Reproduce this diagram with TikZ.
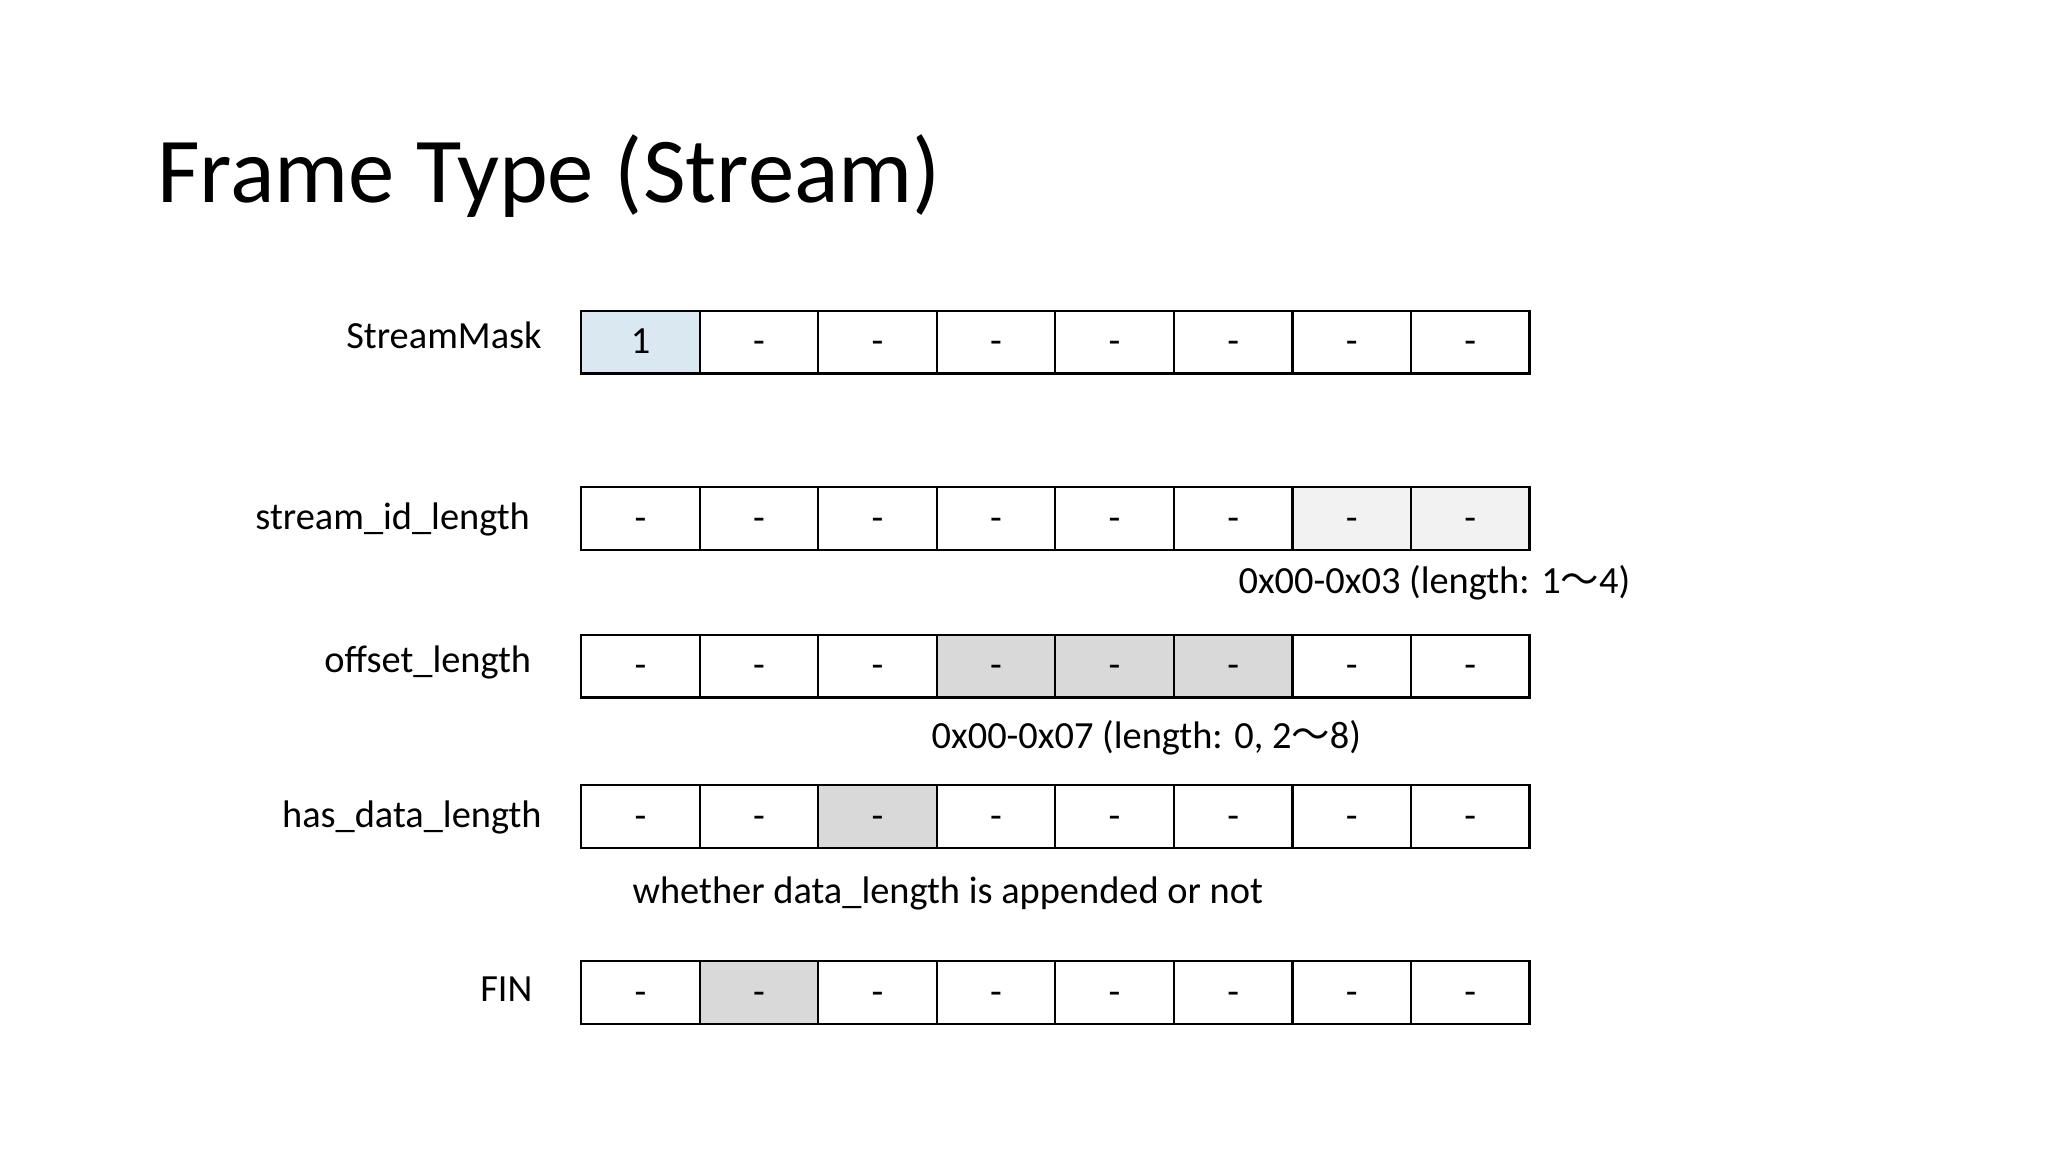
\documentclass[tikz,border=0pt]{standalone}
\usepackage{fontspec}
\setmainfont{Carlito}
\newfontfamily\cjk{Noto Sans CJK JP}
\usepackage{xcolor}
\usetikzlibrary{positioning}
\definecolor{maskblue}{HTML}{DAE8F2}
\definecolor{lightgrey}{HTML}{F2F2F2}
\definecolor{midgrey}{HTML}{D9D9D9}
\tikzset{
  bitcell/.style={draw, line width=1.1pt, minimum width=55.6pt, minimum height=29.4pt, inner sep=0pt, text height=13pt, text depth=2pt, font=\fontsize{18}{20}\selectfont},
  fieldlabel/.style={anchor=east, inner sep=0pt, font=\fontsize{18}{20}\selectfont},
  note/.style={anchor=west, inner sep=0pt, font=\fontsize{18}{20}\selectfont}
}

\begin{document}
\begin{tikzpicture}[x=0.6122pt, y=-0.6122pt]
    % Rahmen
    \useasboundingbox (0,0) rectangle (1568,882);

    % Titel
    \node[anchor=base west, inner sep=0pt, font=\fontsize{43.5}{48}\selectfont] (title) at (120,155) {Frame Type (Stream)};

    % Zeilen: Name / y / Zellen (Farbe/Text)
    \foreach \row/\y/\cells in {
        mask/262/{maskblue/1,white/-,white/-,white/-,white/-,white/-,white/-,white/-},
        sid/397/{white/-,white/-,white/-,white/-,white/-,white/-,lightgrey/-,lightgrey/-},
        off/510/{white/-,white/-,white/-,midgrey/-,midgrey/-,midgrey/-,white/-,white/-},
        hdl/625/{white/-,white/-,midgrey/-,white/-,white/-,white/-,white/-,white/-},
        fin/760/{white/-,midgrey/-,white/-,white/-,white/-,white/-,white/-,white/-}} {
        \foreach[count=\i] \c/\t in \cells {
            \node[bitcell, fill=\c] (\row\i) at ({445+90.75*(\i-0.5)},\y) {\t};
        }
    }

    % Feldnamen
    \node[fieldlabel] (masklabel) at (415,257) {StreamMask};
    \node[fieldlabel] (sidlabel) at (406,398) {stream\_id\_length};
    \node[fieldlabel] (offlabel) at (407,507) {offset\_length};
    \node[fieldlabel] (hdllabel) at (415,626) {has\_data\_length};
    \node[fieldlabel] (finlabel) at (408,757) {FIN};

    % Erklaerungen
    \node[note] (sidnote) at (948,446) {0x00-0x03 (length: 1{\cjk 〜}4)};
    \node[note] (offnote) at (713,565) {0x00-0x07 (length: 0, 2{\cjk 〜}8)};
    \node[note] (hdlnote) at (484,684) {whether data\_length is appended or not};
\end{tikzpicture}
\end{document}
